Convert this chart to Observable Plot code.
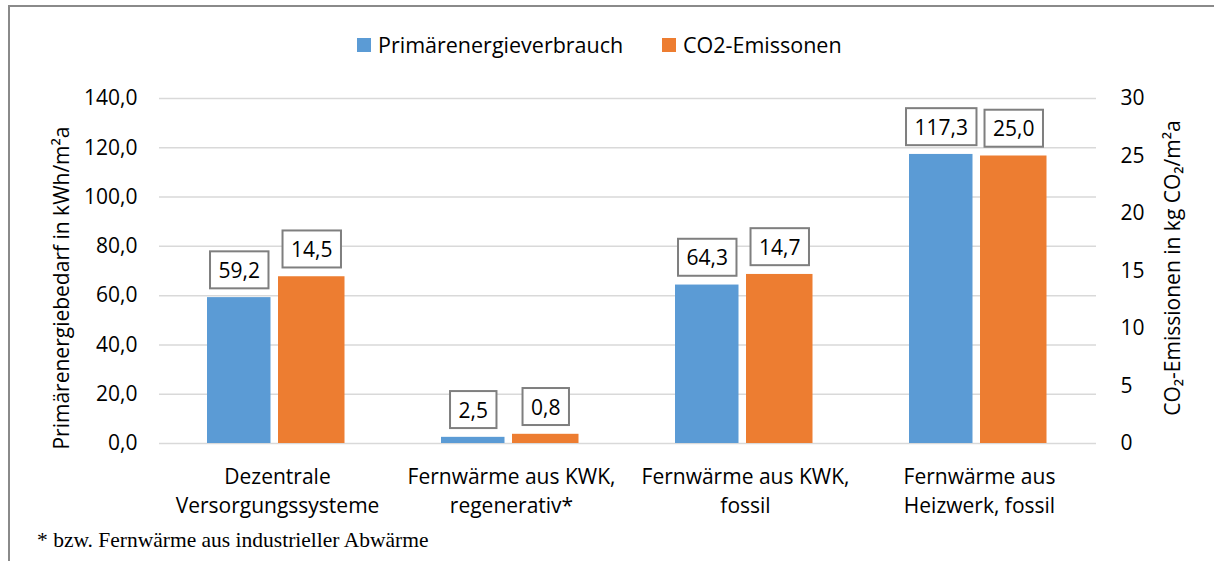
<!DOCTYPE html>
<html>
<head>
<meta charset="utf-8">
<script src="https://cdn.jsdelivr.net/npm/d3@7"></script>
<script src="https://cdn.jsdelivr.net/npm/@observablehq/plot@0.6"></script>
<style>
  html, body { margin: 0; padding: 0; background: #fff; width: 1214px; height: 561px; overflow: hidden; }
  body { position: relative; font-family: "Open Sans", sans-serif; color: #000; }
  #frame { position: absolute; left: 8px; top: 5px; width: 1300px; height: 700px;
           border-left: 2px solid #8a8a8a; border-top: 2px solid #8a8a8a; box-sizing: border-box; }
  #legend { position: relative; height: 70px; }
  .item { position: absolute; top: 30px; display: flex; align-items: center; font-size: 21.5px; white-space: nowrap; }
  .sw { width: 14px; height: 14px; margin-right: 7px; display: inline-block; }
  #chart { position: relative; height: 455px; }
  #chart svg { display: block; }
  #note { position: relative; height: 36px; padding-left: 37px; font-family: "Liberation Serif", "Times New Roman", serif;
          font-size: 21.5px; line-height: 30px; }
</style>
</head>
<body>
<div id="frame"></div>
<div id="legend"></div>
<div id="chart"></div>
<div id="note"></div>
<script>
const categories = [
  "Dezentrale\nVersorgungssysteme",
  "Fernwärme aus KWK,\nregenerativ*",
  "Fernwärme aus KWK,\nfossil",
  "Fernwärme aus\nHeizwerk, fossil"
];
const seriesNames = ["Primärenergieverbrauch", "CO2-Emissonen"];
const seriesColors = ["#5b9bd5", "#ed7d31"];
const primaerenergie = [59.2, 2.5, 64.3, 117.3];
const co2 = [14.5, 0.8, 14.7, 25.0];
const leftTicks = [0, 20, 40, 60, 80, 100, 120, 140];
const rightTicks = [0, 5, 10, 15, 20, 25, 30];
const leftTitle = "Primärenergiebedarf in kWh/m²a";
const rightTitle = "CO₂-Emissionen in kg CO₂/m²a";
const footnote = "* bzw. Fernwärme aus industrieller Abwärme";

const leftMax = 140, rightMax = 30;
const ratio = leftMax / rightMax;
const fmt1 = d => d.toFixed(1).replace(".", ",");

// legend
const legend = document.getElementById("legend");
const legendLefts = [357, 662];
seriesNames.forEach((n, i) => {
  const it = document.createElement("div");
  it.className = "item";
  it.style.left = legendLefts[i] + "px";
  it.innerHTML = `<span class="sw" style="background:${seriesColors[i]}"></span><span>${n}</span>`;
  legend.appendChild(it);
});
document.getElementById("note").textContent = footnote;

const fontSize = 21;
const plot = Plot.plot({
  width: 1214,
  height: 455,
  marginLeft: 159,
  marginRight: 118,
  marginTop: 28,
  marginBottom: 82,
  style: { fontFamily: "'Open Sans', sans-serif", fontSize: fontSize + "px", color: "#000", background: "transparent", overflow: "visible" },
  x: { domain: categories, padding: 0 },
  y: { domain: [0, leftMax] },
  marks: [
    Plot.gridY(leftTicks, { stroke: "#d9d9d9", strokeOpacity: 1, strokeWidth: 1.5 }),
    Plot.barY(primaerenergie, { x: (d, i) => categories[i], y: d => d, fill: seriesColors[0], insetLeft: 47, insetRight: 123.5 }),
    Plot.barY(co2, { x: (d, i) => categories[i], y: d => d * ratio, fill: seriesColors[1], insetLeft: 118, insetRight: 49.5 }),
    Plot.axisY(leftTicks, { anchor: "left", tickSize: 0, tickPadding: 22, tickFormat: fmt1, label: null, fontSize: fontSize }),
    Plot.axisY(rightTicks.map(d => d * ratio), { anchor: "right", tickSize: 0, tickPadding: 24, tickFormat: d => String(Math.round(d / ratio)), label: null, fontSize: fontSize }),
    Plot.axisX({ tickSize: 0, tickPadding: 19, label: null, fontSize: fontSize, lineHeight: 1.42 }),
    Plot.text([leftTitle], { frameAnchor: "left", textAnchor: "middle", rotate: -90, dx: -97, dy: 17, fontSize: 21 }),
    Plot.text([rightTitle], { frameAnchor: "right", textAnchor: "middle", rotate: -90, dx: 77, dy: -3, fontSize: 21 }),
    Plot.text(primaerenergie, { x: (d, i) => categories[i], y: d => d, text: fmt1, dx: -38.25, dy: -26.5, fontSize: 21 }),
    Plot.text(co2, { x: (d, i) => categories[i], y: d => d * ratio, text: fmt1, dx: 34.25, dy: -26.5, fontSize: 21 })
  ]
});
document.getElementById("chart").appendChild(plot);

// boxes around value labels (the last two text marks)
const textGroups = Array.from(plot.querySelectorAll('g[aria-label="text"]'));
textGroups.slice(-2).forEach(g => {
  g.querySelectorAll("text").forEach(t => {
    const b = t.getBBox();
    const padX = 8.5, h = 37;
    const r = document.createElementNS("http://www.w3.org/2000/svg", "rect");
    r.setAttribute("x", b.x - padX);
    r.setAttribute("y", b.y + b.height / 2 - h / 2);
    r.setAttribute("width", b.width + 2 * padX);
    r.setAttribute("height", h);
    r.setAttribute("fill", "#fff");
    r.setAttribute("stroke", "#7f7f7f");
    r.setAttribute("stroke-width", 2);
    if (t.getAttribute("transform")) r.setAttribute("transform", t.getAttribute("transform"));
    t.parentNode.insertBefore(r, t);
  });
});
</script>
</body>
</html>
